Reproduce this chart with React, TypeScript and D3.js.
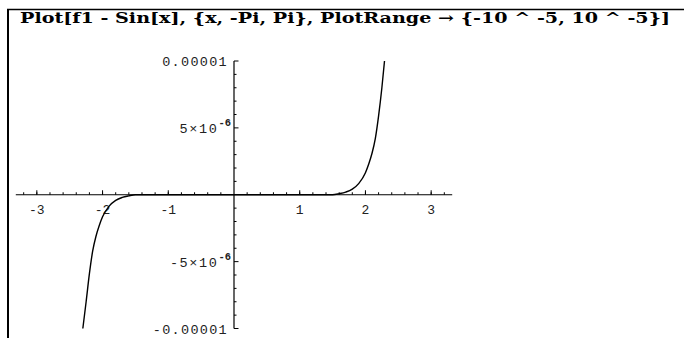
import React from "react";
import * as d3 from "d3";

const titleText = "Plot[f1 - Sin[x], {x, -Pi, Pi}, PlotRange \u2192 {-10 ^ -5, 10 ^ -5}]";

const xMajorTicks = [-3, -2, -1, 1, 2, 3];
const xTickLabels = ["-3", "-2", "-1", "1", "2", "3"];
const xMinorTicks = [-3.2, -3.0, -2.8, -2.6, -2.4, -2.2, -2.0, -1.8, -1.6, -1.4, -1.2, -1.0, -0.8, -0.6, -0.4, -0.2,
  0.2, 0.4, 0.6, 0.8, 1.0, 1.2, 1.4, 1.6, 1.8, 2.0, 2.2, 2.4, 2.6, 2.8, 3.0, 3.2];

const yMajorTicks = [-1e-5, -5e-6, 5e-6, 1e-5];
const yTickMantissa = ["-0.00001", "-5\u00d710", "5\u00d710", "0.00001"];
const yTickExponent = ["", "-6", "-6", ""];
const yMinorTicks = [-9e-6, -8e-6, -7e-6, -6e-6, -4e-6, -3e-6, -2e-6, -1e-6, 1e-6, 2e-6, 3e-6, 4e-6, 6e-6, 7e-6, 8e-6, 9e-6];

// f1 - Sin[x] (clipped to the plot range)
const curveX = [-2.3, -2.25, -2.2, -2.15, -2.1, -2.05, -2.0, -1.9, -1.8, -1.7, -1.6, -1.5, 0,
  1.5, 1.6, 1.7, 1.8, 1.9, 2.0, 2.05, 2.1, 2.15, 2.2, 2.25, 2.29];
const curveY = [-1.0e-5, -8.0e-6, -5.9e-6, -4.2e-6, -3.1e-6, -2.3e-6, -1.65e-6, -0.85e-6, -0.42e-6, -0.2e-6, -0.08e-6, 0, 0,
  0, 0.08e-6, 0.2e-6, 0.42e-6, 0.85e-6, 1.65e-6, 2.3e-6, 3.1e-6, 4.2e-6, 5.9e-6, 8.0e-6, 1.0e-5];

export default function App() {
  const W = 684, H = 338;
  const x = d3.scaleLinear().domain([-3.32, 3.32]).range([15.8, 452.2]);
  const y = d3.scaleLinear().domain([-1e-5, 1e-5]).range([328.5, 61]);
  const x0 = x(0), y0 = y(0);
  const pts: [number, number][] = curveX.map((v, i) => [v, curveY[i]]);
  const line = d3.line<[number, number]>().x(d => x(d[0])).y(d => y(d[1])).curve(d3.curveMonotoneX);
  const tickFont = "'Liberation Mono', 'DejaVu Sans Mono', monospace";

  return (
    <svg width={W} height={H} style={{ position: "fixed", left: 0, top: 0, background: "#fff" }}>
      <rect x={0} y={0} width={W} height={H} fill="#fff" />
      {/* cell frame */}
      <line x1={7} x2={W} y1={9.5} y2={9.5} stroke="#000" strokeWidth={1.3} />
      <line x1={8} x2={8} y1={9} y2={H} stroke="#000" strokeWidth={2} />
      {/* title */}
      <text x={20} y={23} fontFamily="'DejaVu Serif', 'Liberation Serif', serif" fontWeight="bold" fontSize={14.5}
        textLength={650} lengthAdjust="spacingAndGlyphs">{titleText}</text>

      {/* x axis */}
      <line x1={x(-3.32)} x2={x(3.32)} y1={y0} y2={y0} stroke="#000" strokeWidth={1.2} />
      {xMinorTicks.map((t, i) => (
        <line key={"xm" + i} x1={x(t)} x2={x(t)} y1={y0} y2={y0 - 2.5} stroke="#000" strokeWidth={1} />
      ))}
      {xMajorTicks.map((t, i) => (
        <g key={"xM" + i}>
          <line x1={x(t)} x2={x(t)} y1={y0} y2={y0 - 4.5} stroke="#000" strokeWidth={1} />
          <text x={x(t)} y={y0 + 19} textAnchor="middle" fontFamily={tickFont} fontSize={13} fill="#222">{xTickLabels[i]}</text>
        </g>
      ))}

      {/* y axis */}
      <line x1={x0} x2={x0} y1={y(1e-5)} y2={y(-1e-5)} stroke="#000" strokeWidth={1.2} />
      {yMinorTicks.map((t, i) => (
        <line key={"ym" + i} x1={x0} x2={x0 + 2.5} y1={y(t)} y2={y(t)} stroke="#000" strokeWidth={1} />
      ))}
      {yMajorTicks.map((t, i) => (
        <g key={"yM" + i}>
          <line x1={x0} x2={x0 + 4.5} y1={y(t)} y2={y(t)} stroke="#000" strokeWidth={1} />
          {yTickExponent[i] ? (
            <text x={x0 - 3} y={y(t) + 5} textAnchor="end" fontFamily={tickFont} fontSize={13.5} fill="#222"
              letterSpacing={1.6}>
              <tspan>{yTickMantissa[i]}</tspan>
              <tspan dy={-7} fontSize={10.5} fontWeight="bold" letterSpacing={0}>{yTickExponent[i]}</tspan>
            </text>
          ) : (
            <text x={x0 - 6} y={y(t) + 5} textAnchor="end" fontFamily={tickFont} fontSize={13.5} fill="#222"
              letterSpacing={1.3}>{yTickMantissa[i]}</text>
          )}
        </g>
      ))}

      {/* curve */}
      <path d={line(pts) || ""} fill="none" stroke="#000" strokeWidth={1.4} />
    </svg>
  );
}
